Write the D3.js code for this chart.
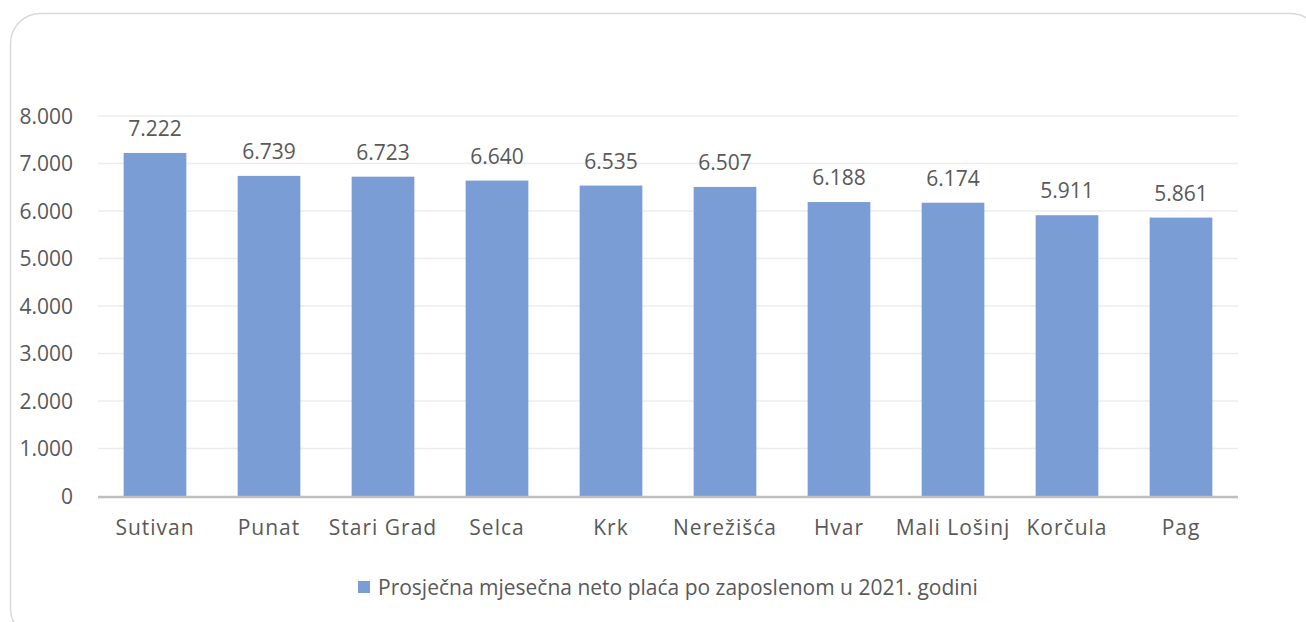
<!DOCTYPE html>
<html>
<head>
<meta charset="utf-8">
<script src="https://cdn.jsdelivr.net/npm/d3@7"></script>
<style>
  body { margin: 0; background: #fff; }
  text { font-family: "Open Sans", "Noto Sans", sans-serif; fill: #595959; }
</style>
</head>
<body>
<svg id="chart" width="1306" height="622"></svg>
<script>
// Chart data
const towns = ["Sutivan", "Punat", "Stari Grad", "Selca", "Krk", "Nerežišća", "Hvar", "Mali Lošinj", "Korčula", "Pag"]
const salaries = [7222, 6739, 6723, 6640, 6535, 6507, 6188, 6174, 5911, 5861]
const yTicks = [0, 1000, 2000, 3000, 4000, 5000, 6000, 7000, 8000]
const seriesName = "Prosječna mjesečna neto plaća po zaposlenom u 2021. godini"

const svg = d3.select("#chart")
const barColor = "#7a9dd6"

// Croatian number format: dot as thousands separator
const fmt = d3.formatLocale({decimal: ",", thousands: ".", grouping: [3], currency: ["", " kn"]}).format(",d")

// Outer rounded frame (runs past the right and bottom edge of the picture)
svg.append("rect")
  .attr("x", 10.5).attr("y", 13.5)
  .attr("width", 1310).attr("height", 625)
  .attr("rx", 30)
  .attr("fill", "none")
  .attr("stroke", "#d9d9d9")
  .attr("stroke-width", 1.5)

const x = d3.scaleBand().domain(towns).range([98, 1238]).paddingInner(0.45).paddingOuter(0.225)
const y = d3.scaleLinear().domain([0, 8000]).range([496, 116])

// Horizontal gridlines
svg.append("g")
  .selectAll("line")
  .data(yTicks.filter(d => d > 0))
  .enter()
  .append("line")
  .attr("x1", 98).attr("x2", 1238)
  .attr("y1", d => y(d)).attr("y2", d => y(d))
  .attr("stroke", "#ececec")
  .attr("stroke-width", 1.5)

// Y axis labels (no axis line, just the numbers)
svg.append("g")
  .selectAll("text")
  .data(yTicks)
  .enter()
  .append("text")
  .attr("x", 73)
  .attr("y", d => y(d) + 7.5)
  .attr("text-anchor", "end")
  .style("font-size", "21px")
  .text(d => fmt(d))

// Bars
svg.append("g")
  .selectAll("rect")
  .data(salaries)
  .enter()
  .append("rect")
  .attr("x", (d, i) => x(towns[i]))
  .attr("y", d => y(d))
  .attr("width", x.bandwidth())
  .attr("height", d => y(0) - y(d))
  .attr("fill", barColor)

// Value labels above the bars
svg.append("g")
  .selectAll("text")
  .data(salaries)
  .enter()
  .append("text")
  .attr("x", (d, i) => x(towns[i]) + x.bandwidth() / 2)
  .attr("y", d => y(d) - 17)
  .attr("text-anchor", "middle")
  .style("font-size", "21px")
  .text(d => fmt(d))

// Baseline
svg.append("line")
  .attr("x1", 98).attr("x2", 1238)
  .attr("y1", y(0) + 1).attr("y2", y(0) + 1)
  .attr("stroke", "#bfbfbf")
  .attr("stroke-width", 2.5)

// Category labels
svg.append("g")
  .selectAll("text")
  .data(towns)
  .enter()
  .append("text")
  .attr("x", d => x(d) + x.bandwidth() / 2)
  .attr("y", 535)
  .attr("text-anchor", "middle")
  .style("font-size", "21px")
  .style("letter-spacing", "1px")
  .text(d => d)

// Legend
const legend = svg.append("g")
legend.append("rect")
  .attr("x", 358).attr("y", 581)
  .attr("width", 12).attr("height", 12)
  .attr("fill", barColor)
legend.append("text")
  .attr("x", 378).attr("y", 595)
  .style("font-size", "21px")
  .text(seriesName)
</script>
</body>
</html>
